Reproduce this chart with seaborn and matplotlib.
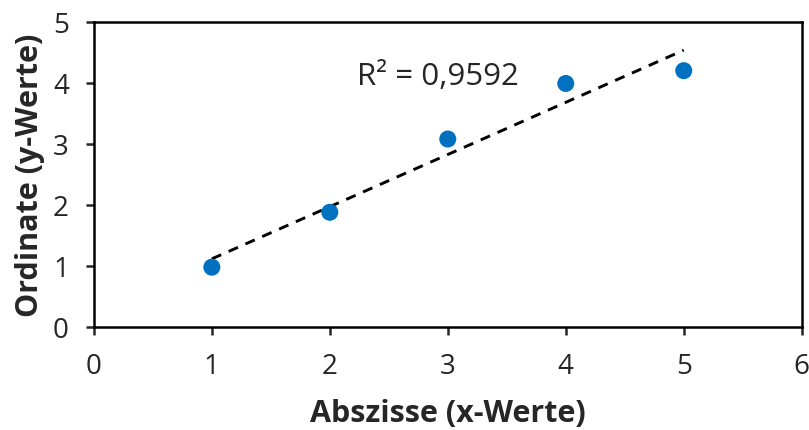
import numpy as np
import pandas as pd
import matplotlib
matplotlib.use("Agg")
import matplotlib.pyplot as plt
import seaborn as sns

x_werte = [1, 2, 3, 4, 5]
y_werte = [0.98, 1.88, 3.08, 3.99, 4.20]
r2_label = "R² = 0,9592"
x_label = "Abszisse (x-Werte)"
y_label = "Ordinate (y-Werte)"

sns.set_style("white")
plt.rcParams["font.family"] = ["Open Sans", "DejaVu Sans"]

df = pd.DataFrame({"x": x_werte, "y": y_werte})

# linear trend line over the data range
slope, intercept = np.polyfit(df["x"], df["y"], 1)
trend = pd.DataFrame({"x": [min(x_werte), max(x_werte)]})
trend["y"] = slope * trend["x"] + intercept

fig = plt.figure(figsize=(8.09, 4.31), dpi=100)
ax = fig.add_axes([0.116, 0.239, 0.875, 0.708])

sns.lineplot(data=trend, x="x", y="y", ax=ax, color="black", linewidth=2.1,
             linestyle=(0, (3.5, 2.8)))
sns.scatterplot(data=df, x="x", y="y", ax=ax, color="#0070C0", s=150,
                edgecolor="none", zorder=3)

ax.text(2.23, 4.11, r2_label, ha="left", va="center", fontsize=22.5)

ax.set_xlim(0, 6)
ax.set_ylim(0, 5)
ax.set_xticks(range(0, 7))
ax.set_yticks(range(0, 6))
ax.tick_params(axis="both", labelsize=20, direction="out", length=6, width=1.8,
               bottom=True, left=True, pad=12)
ax.set_xlabel(x_label, fontsize=22, fontweight="bold", labelpad=13)
ax.set_ylabel(y_label, fontsize=22, fontweight="bold", labelpad=6)

for sp in ax.spines.values():
    sp.set_linewidth(1.8)
    sp.set_color("black")

fig.savefig("out.png", dpi=100)
